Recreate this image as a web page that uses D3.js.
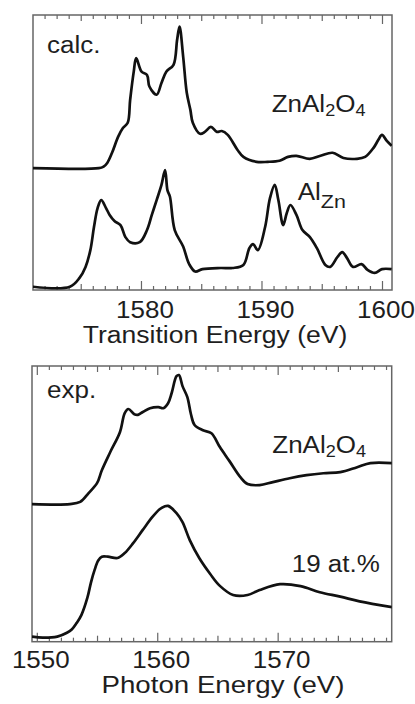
<!DOCTYPE html>
<html>
<head>
<meta charset="utf-8">
<script src="https://cdn.jsdelivr.net/npm/d3@7"></script>
<style>
  html, body { margin: 0; padding: 0; background: #fff; }
  svg { display: block; }
</style>
</head>
<body>
<svg id="fig" width="415" height="704"></svg>
<script>
// Al K-edge spectra: [energy (eV), intensity above own baseline (a.u.)]
const calcSpinel = [
  [1571.0,0],[1576.5,0],[1576.9,0.6],[1577.2,1.9],[1577.6,5.6],[1578.1,11.4],[1578.5,14.6],
  [1578.9,16.5],[1579.1,24.8],[1579.4,35.1],[1579.6,40.0],[1580.05,35.1],[1580.5,33.9],
  [1580.7,29.7],[1581.3,26.7],[1581.7,31.0],[1582.1,35.1],[1582.7,37.6],[1583.0,46.7],
  [1583.2,51.5],[1583.5,40.6],[1583.8,27.4],[1584.1,21.2],[1584.3,16.5],[1584.9,12.5],
  [1585.3,13.2],[1585.8,15.0],[1586.3,13.2],[1586.7,13.5],[1587.2,12.1],[1588.0,6.7],
  [1588.5,4.1],[1589.6,2.3],[1590.5,2.3],[1591.5,2.7],[1592.2,4.1],[1592.9,4.5],[1594.0,3.4],
  [1594.9,4.5],[1595.9,5.6],[1596.8,3.7],[1597.9,3.4],[1598.6,4.1],[1599.3,7.4],[1599.7,10.3],
  [1600.0,12.1],[1600.4,9.9],[1600.8,8.1]
];
const calcAlZn = [
  [1571.0,0],[1574.1,0],[1574.9,3.2],[1575.4,7.2],[1575.8,13.3],[1576.1,21.7],[1576.4,28.6],
  [1576.7,31.5],[1577.1,28.6],[1577.4,26.1],[1577.8,23.9],[1578.3,22.4],[1578.7,18.1],
  [1579.1,16.2],[1579.9,16.2],[1580.5,20.6],[1580.9,26.1],[1581.3,31.5],[1581.7,37.0],
  [1582.0,42.4],[1582.2,35.0],[1582.4,32.8],[1582.8,20.6],[1583.5,14.6],[1584.0,8.2],
  [1584.5,5.5],[1585.1,6.4],[1586.6,6.8],[1587.6,6.8],[1588.5,7.9],[1589.0,14.1],[1589.3,15.5],
  [1589.7,13.3],[1590.3,21.7],[1590.7,32.1],[1591.1,37.0],[1591.4,31.5],[1591.8,22.4],
  [1592.1,26.8],[1592.4,29.7],[1592.9,26.1],[1593.4,20.6],[1594.0,18.1],[1594.6,14.0],
  [1595.3,7.9],[1595.7,7.2],[1596.3,10.8],[1596.7,12.6],[1597.1,10.4],[1597.6,7.2],
  [1598.3,8.2],[1598.8,6.1],[1599.4,5.0],[1600.0,6.4],[1600.8,6.4]
];
const expSpinel = [
  [1549.6,0],[1552.75,0],[1553.6,0.8],[1554.3,4.0],[1555.0,7.6],[1555.4,12.3],[1556.1,18.9],
  [1556.9,26.1],[1557.3,33.0],[1557.6,34.5],[1558.1,32.6],[1558.4,32.4],[1558.8,33.4],
  [1559.4,34.8],[1560.1,35.2],[1560.5,34.8],[1560.9,36.6],[1561.2,40.3],[1561.6,46.4],
  [1561.8,46.8],[1562.1,42.8],[1562.5,38.8],[1562.8,32.6],[1563.1,28.7],[1563.8,26.8],
  [1564.5,25.7],[1565.2,20.7],[1566.0,15.6],[1566.9,9.8],[1567.5,7.3],[1568.5,6.9],
  [1569.6,8.0],[1571.0,9.4],[1572.4,10.5],[1573.8,11.2],[1575.2,11.6],[1576.6,13.4],
  [1577.7,14.9],[1579.5,14.9]
];
const expDoped = [
  [1549.6,0.4],[1550.5,0],[1551.7,0.4],[1552.5,1.8],[1552.9,3.0],[1553.3,5.3],[1553.7,8.2],
  [1554.2,14.5],[1554.5,20.1],[1554.8,24.6],[1555.1,28.0],[1555.4,29.4],[1555.9,29.4],
  [1556.7,28.9],[1557.3,30.7],[1558.0,34.3],[1558.8,39.1],[1559.6,43.8],[1560.2,46.6],
  [1560.6,47.6],[1560.9,47.8],[1561.6,45.2],[1562.1,41.9],[1562.7,35.4],[1563.5,28.8],
  [1564.4,23.1],[1565.2,18.8],[1566.3,15.5],[1567.5,15.5],[1568.5,17.3],[1570.2,19.4],
  [1571.9,18.7],[1573.5,16.5],[1575.2,14.9],[1576.8,13.2],[1579.5,11.1]
];

// vertical offsets used to stack the spectra in each panel
const calcOffsets = [44.3, 1.2];
const expOffsets = [49.9, 1.45];

// labelled tick values
const calcTicks = [1580, 1590, 1600];
const expTicks = [1550, 1560, 1570];

const FONT = "'Liberation Sans', Arial, Helvetica, sans-serif";
const STRETCH = 1.13;          // glyphs in this figure are set slightly wide
const INK = "#111";
const FRAME = "#666";

const svg = d3.select("#fig");

const panels = [
  {
    id: "calc", left: 33, right: 392, top: 15, bottom: 290,
    xDomain: [1571.04, 1600.83],
    series: [calcSpinel, calcAlZn], offsets: calcOffsets,
    ticks: calcTicks, tickBase: 318,
    title: "Transition Energy (eV)", titleSize: 23.5, titleX: 215, titleY: 343
  },
  {
    id: "exp", left: 32, right: 391.7, top: 366, bottom: 641.7,
    xDomain: [1549.6, 1579.47],
    series: [expSpinel, expDoped], offsets: expOffsets,
    ticks: expTicks, tickBase: 667.5,
    title: "Photon Energy (eV)", titleSize: 24.5, titleX: 223, titleY: 693
  }
];

// text with a horizontal stretch and optional subscript runs
function addText(parent, x, y, size, parts, anchor) {
  const t = parent.append("text")
    .attr("transform", `translate(${x},${y}) scale(${STRETCH},1)`)
    .attr("font-family", FONT)
    .attr("font-size", size)
    .attr("fill", "#1e1e1e")
    .attr("text-anchor", anchor || "start");
  let shift = 0;
  parts.forEach(p => {
    const s = typeof p === "string" ? { t: p } : p;
    const want = s.sub ? s.dy : 0;
    t.append("tspan")
      .attr("dy", want - shift)
      .attr("font-size", s.sub ? s.size : size)
      .text(s.t);
    shift = want;
  });
  return t;
}

panels.forEach(p => {
  const g = svg.append("g").attr("class", `panel-${p.id}`);
  const x = d3.scaleLinear().domain(p.xDomain).range([p.left, p.right]);
  const y = d3.scaleLinear().domain([0, 100]).range([p.bottom, p.top]);

  g.append("clipPath").attr("id", `clip-${p.id}`)
    .append("rect")
    .attr("x", p.left).attr("y", p.top)
    .attr("width", p.right - p.left).attr("height", p.bottom - p.top);

  // inward ticks: 1 eV minor, 5 eV medium, 10 eV major, on top and bottom edges
  const lo = Math.ceil(p.xDomain[0]), hi = Math.floor(p.xDomain[1]);
  const all = d3.range(lo, hi + 1);
  const levels = [
    { vals: all.filter(v => v % 5 !== 0), len: 4 },
    { vals: all.filter(v => v % 5 === 0 && v % 10 !== 0), len: 6 },
    { vals: all.filter(v => v % 10 === 0), len: 9 }
  ];
  levels.forEach(l => {
    const bottomAxis = d3.axisBottom(x).tickValues(l.vals).tickSize(-l.len).tickFormat("");
    const topAxis = d3.axisTop(x).tickValues(l.vals).tickSize(-l.len).tickFormat("");
    [[bottomAxis, p.bottom], [topAxis, p.top]].forEach(([ax, yy]) => {
      const a = g.append("g").attr("transform", `translate(0,${yy})`).call(ax);
      a.select(".domain").remove();
      a.selectAll(".tick line").attr("stroke", FRAME).attr("stroke-width", 1.2);
    });
  });

  // frame
  g.append("rect")
    .attr("x", p.left).attr("y", p.top)
    .attr("width", p.right - p.left).attr("height", p.bottom - p.top)
    .attr("fill", "none").attr("stroke", FRAME).attr("stroke-width", 1.5);

  // spectra
  p.series.forEach((s, i) => {
    const line = d3.line()
      .x(d => x(d[0]))
      .y(d => y(d[1] + p.offsets[i]))
      .curve(d3.curveCatmullRom.alpha(0.5));
    g.append("path")
      .datum(s)
      .attr("d", line)
      .attr("clip-path", `url(#clip-${p.id})`)
      .attr("fill", "none")
      .attr("stroke", INK)
      .attr("stroke-width", 2.7)
      .attr("stroke-linejoin", "round");
  });

  // tick labels
  p.ticks.forEach(v => addText(g, x(v) + 4, p.tickBase, 23, [String(v)], "middle"));

  // axis title
  addText(g, p.titleX, p.titleY, p.titleSize, [p.title], "middle");
});

// panel annotations
const calcPanel = svg.select(".panel-calc");
const expPanel = svg.select(".panel-exp");
const spinelParts = ["ZnAl", { t: "2", sub: true, size: 16, dy: 4 }, "O", { t: "4", sub: true, size: 16, dy: 4 }];
addText(calcPanel, 47, 53, 23, ["calc."]);
addText(calcPanel, 271.7, 111.7, 23, spinelParts);
addText(calcPanel, 297.7, 200, 23, ["Al", { t: "Zn", sub: true, size: 19, dy: 8 }]);
addText(expPanel, 47, 398, 23, ["exp."]);
addText(expPanel, 272.3, 452.7, 23, spinelParts);
addText(expPanel, 291.7, 571.7, 23, ["19 at.%"]);
</script>
</body>
</html>
